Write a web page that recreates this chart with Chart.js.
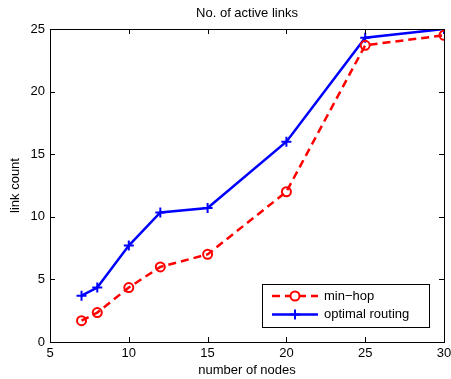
<!DOCTYPE html>
<html>
<head>
<meta charset="utf-8">
<script src="https://cdn.jsdelivr.net/npm/chart.js@4/dist/chart.umd.min.js"></script>
<style>
    html, body { margin: 0; padding: 0; background: #fff; overflow: hidden; }
    #wrap { width: 451px; height: 379px; }
</style>
</head>
<body>
<div id="wrap"><canvas id="chart"></canvas></div>
<script>
'use strict';

// Chart data
const nodes = [7, 8, 10, 12, 15, 20, 25, 30];
const minHop = [1.7, 2.35, 4.35, 6.0, 7.0, 12.0, 23.7, 24.5];
const optimalRouting = [3.7, 4.35, 7.7, 10.35, 10.7, 16.0, 24.3, 25.0];
const xTicks = [5, 10, 15, 20, 25, 30];
const yTicks = [0, 5, 10, 15, 20, 25];
const chartTitle = 'No. of active links';

const fontFamily = "'Liberation Sans', Arial, sans-serif";

// Build points
function toPoints(values) {
    return nodes.map((x, i) => ({ x: x, y: values[i] }));
}

// Matlab style box, inward ticks and title centred on the axes
const boxPlugin = {
    id: 'boxPlugin',
    afterDraw(chart) {
        let ctx = chart.ctx;
        let a = chart.chartArea;
        let xs = chart.scales.x;
        let ys = chart.scales.y;
        let len = 5;
        ctx.save();
        ctx.strokeStyle = '#000';
        ctx.lineWidth = 1;
        ctx.beginPath();
        xTicks.forEach((v) => {
            let px = Math.round(xs.getPixelForValue(v)) + 0.5;
            ctx.moveTo(px, a.bottom);
            ctx.lineTo(px, a.bottom - len);
            ctx.moveTo(px, a.top);
            ctx.lineTo(px, a.top + len);
        });
        yTicks.forEach((v) => {
            let py = Math.round(ys.getPixelForValue(v)) + 0.5;
            ctx.moveTo(a.left, py);
            ctx.lineTo(a.left + len, py);
            ctx.moveTo(a.right, py);
            ctx.lineTo(a.right - len, py);
        });
        ctx.stroke();
        ctx.strokeRect(Math.round(a.left) + 0.5, Math.round(a.top) + 0.5,
            Math.round(a.right - a.left), Math.round(a.bottom - a.top));

        // Title
        ctx.fillStyle = '#000';
        ctx.font = '13px ' + fontFamily;
        ctx.textAlign = 'center';
        ctx.textBaseline = 'middle';
        ctx.fillText(chartTitle, (a.left + a.right) / 2, 13);
        ctx.restore();
    }
};

// Legend box inside plot area
const legendPlugin = {
    id: 'legendPlugin',
    afterDraw(chart) {
        let ctx = chart.ctx;
        let a = chart.chartArea;
        let boxW = 167, boxH = 43;
        let bx = a.right - 15 - boxW;
        let by = a.bottom - 15 - boxH;
        ctx.save();
        ctx.fillStyle = '#fff';
        ctx.fillRect(bx, by, boxW, boxH);
        ctx.strokeStyle = '#000';
        ctx.lineWidth = 1;
        ctx.strokeRect(Math.round(bx) + 0.5, Math.round(by) + 0.5, boxW, boxH);
        chart.data.datasets.forEach((ds, i) => {
            let cy = by + 12 + i * 18.5;
            let x1 = bx + 10, x2 = bx + 56;
            ctx.strokeStyle = ds.borderColor;
            ctx.lineWidth = ds.borderWidth;
            ctx.setLineDash(ds.borderDash || []);
            ctx.beginPath();
            ctx.moveTo(x1, cy);
            ctx.lineTo(x2, cy);
            ctx.stroke();
            ctx.setLineDash([]);
            let mx = (x1 + x2) / 2;
            ctx.lineWidth = ds.pointBorderWidth;
            ctx.beginPath();
            if (ds.pointStyle === 'circle') {
                ctx.fillStyle = '#fff';
                ctx.arc(mx, cy, ds.pointRadius, 0, Math.PI * 2);
                ctx.fill();
            } else {
                ctx.moveTo(mx - ds.pointRadius, cy);
                ctx.lineTo(mx + ds.pointRadius, cy);
                ctx.moveTo(mx, cy - ds.pointRadius);
                ctx.lineTo(mx, cy + ds.pointRadius);
            }
            ctx.stroke();
            ctx.fillStyle = '#000';
            ctx.font = '13px ' + fontFamily;
            ctx.textBaseline = 'middle';
            ctx.fillText(ds.label, bx + 62, cy);
        });
        ctx.restore();
    }
};

let ctx = document.getElementById('chart').getContext('2d');
let chart = new Chart(ctx, {
    type: 'line',
    data: {
        datasets: [{
            label: 'min\u2212hop',
            data: toPoints(minHop),
            borderColor: '#ff0000',
            backgroundColor: '#ffffff',
            borderWidth: 2.5,
            borderDash: [8, 5],
            pointStyle: 'circle',
            pointRadius: 4.5,
            pointBorderWidth: 2,
            pointBorderColor: '#ff0000',
            pointBackgroundColor: 'rgba(0,0,0,0)',
            tension: 0
        }, {
            label: 'optimal routing',
            data: toPoints(optimalRouting),
            borderColor: '#0000ff',
            backgroundColor: '#0000ff',
            borderWidth: 2.5,
            pointStyle: 'cross',
            pointRadius: 5,
            pointBorderWidth: 2,
            pointBorderColor: '#0000ff',
            tension: 0
        }]
    },
    options: {
        responsive: true,
        maintainAspectRatio: false,
        animation: false,
        layout: { padding: { left: 0, right: 4, top: 29, bottom: 0 } },
        plugins: {
            legend: { display: false },
            tooltip: { enabled: false },
            title: { display: false }
        },
        scales: {
            x: {
                type: 'linear',
                min: 5,
                max: 30,
                afterBuildTicks: (scale) => {
                    scale.ticks = xTicks.map((v) => ({ value: v }));
                },
                afterFit: (scale) => {
                    scale.height = 37;
                    scale.paddingRight = 0;
                    scale.paddingLeft = 0;
                },
                grid: { display: false, drawTicks: false },
                border: { display: false },
                ticks: {
                    color: '#000',
                    padding: 4,
                    maxRotation: 0,
                    font: { family: fontFamily, size: 13 }
                },
                title: {
                    display: true,
                    text: 'number of nodes',
                    color: '#000',
                    font: { family: fontFamily, size: 13 },
                    padding: { top: 0, bottom: 1 }
                }
            },
            y: {
                type: 'linear',
                min: 0,
                max: 25,
                afterBuildTicks: (scale) => {
                    scale.ticks = yTicks.map((v) => ({ value: v }));
                },
                afterFit: (scale) => {
                    scale.width = 50;
                    scale.paddingTop = 0;
                    scale.paddingBottom = 0;
                },
                grid: { display: false, drawTicks: false },
                border: { display: false },
                ticks: {
                    color: '#000',
                    padding: 5,
                    font: { family: fontFamily, size: 13 }
                },
                title: {
                    display: true,
                    text: 'link count',
                    color: '#000',
                    font: { family: fontFamily, size: 13 },
                    padding: { top: 8, bottom: 0 }
                }
            }
        }
    },
    plugins: [boxPlugin, legendPlugin]
});
</script>
</body>
</html>
